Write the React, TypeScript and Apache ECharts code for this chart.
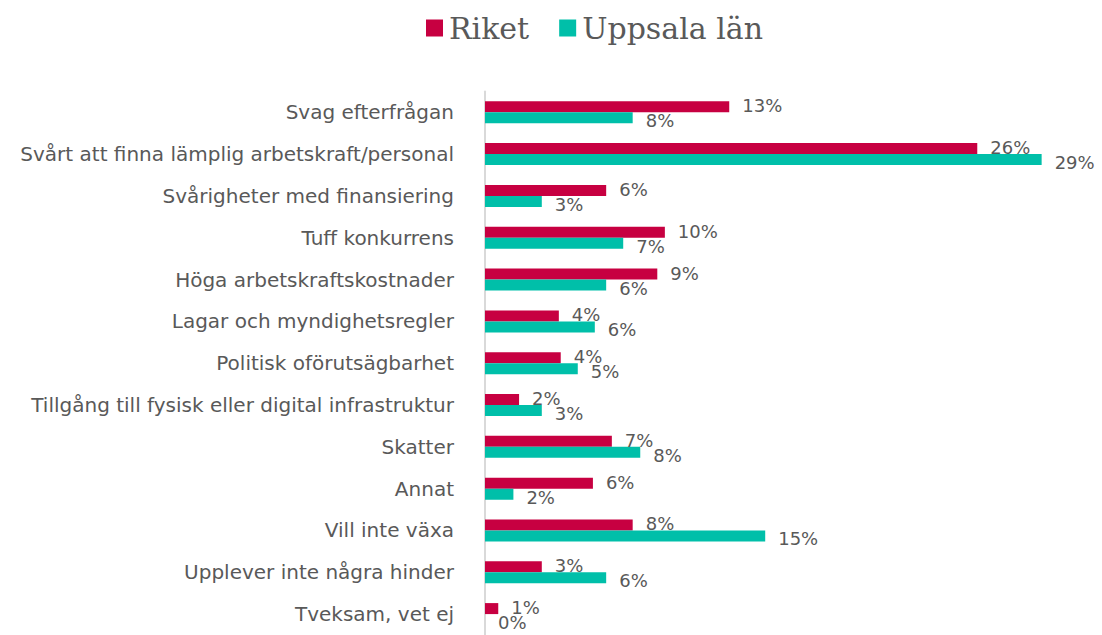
import React, { useEffect, useRef } from "react";
import * as echarts from "echarts";

const categories = [
  "Svag efterfrågan",
  "Svårt att finna lämplig arbetskraft/personal",
  "Svårigheter med finansiering",
  "Tuff konkurrens",
  "Höga arbetskraftskostnader",
  "Lagar och myndighetsregler",
  "Politisk oförutsägbarhet",
  "Tillgång till fysisk eller digital infrastruktur",
  "Skatter",
  "Annat",
  "Vill inte växa",
  "Upplever inte några hinder",
  "Tveksam, vet ej",
];
const riket = [12.9, 26.0, 6.4, 9.5, 9.1, 3.9, 4.0, 1.8, 6.7, 5.7, 7.8, 3.0, 0.7];
const uppsala = [7.8, 29.4, 3.0, 7.3, 6.4, 5.8, 4.9, 3.0, 8.2, 1.5, 14.8, 6.4, 0];

const TEXT = "#595959";
const FONT = "DejaVu Sans";

export default function App() {
  const ref = useRef<HTMLDivElement>(null);
  useEffect(() => {
    const chart = echarts.init(ref.current!, null, { renderer: "svg" });
    const label = (dy: number) => ({
      show: true,
      position: "right",
      distance: 13,
      offset: [0, dy],
      color: TEXT,
      fontFamily: FONT,
      fontSize: 18,
      formatter: (p: any) => Math.round(p.value) + "%",
    });
    chart.setOption({
      animation: false,
      legend: {
        left: 421,
        top: 8,
        icon: "rect",
        itemWidth: 17,
        itemHeight: 17,
        itemGap: 30,
        textStyle: { color: TEXT, fontFamily: "DejaVu Serif", fontSize: 30, padding: [0, 0, 0, 1] },
        data: ["Riket", "Uppsala län"],
      },
      grid: { left: 485, top: 91.4, height: 550, width: 568, containLabel: false },
      xAxis: {
        type: "value",
        min: 0,
        max: 30,
        show: false,
      },
      yAxis: {
        type: "category",
        inverse: true,
        data: categories,
        axisLine: { show: true, lineStyle: { color: "#d9d9d9", width: 2 } },
        axisTick: { show: false },
        axisLabel: { color: TEXT, fontFamily: FONT, fontSize: 20, margin: 31 },
      },
      series: [
        {
          name: "Riket",
          type: "bar",
          data: riket,
          barWidth: 11,
          barGap: "0%",
          itemStyle: { color: "#C70041" },
          label: label(-1),
        },
        {
          name: "Uppsala län",
          type: "bar",
          data: uppsala,
          barWidth: 11,
          barGap: "0%",
          itemStyle: { color: "#00BFA9" },
          label: label(3),
        },
      ],
    });
    return () => chart.dispose();
  }, []);
  return (
    <div
      ref={ref}
      style={{ position: "fixed", left: 0, top: 0, width: 1102, height: 635, background: "#fff" }}
    />
  );
}
